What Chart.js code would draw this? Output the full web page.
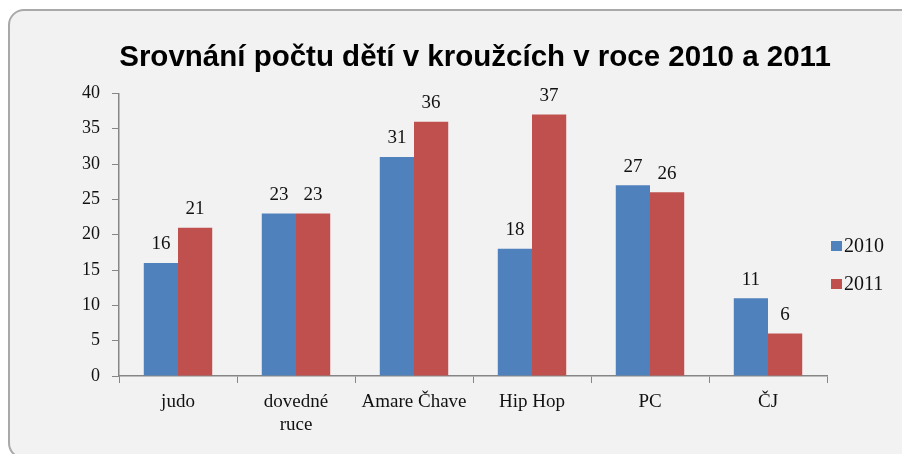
<!DOCTYPE html>
<html>
<head>
<meta charset="utf-8">
<script src="https://cdn.jsdelivr.net/npm/chart.js@4/dist/chart.umd.min.js"></script>
<style>
  html, body { margin: 0; padding: 0; background: #ffffff; }
  #wrap { position: relative; width: 902px; height: 454px; overflow: hidden; }
  #box { position: absolute; left: 8px; top: 9px; width: 920px; height: 450px;
         border: 2.5px solid #a9a9a9; border-radius: 16px; background: #f2f2f2; box-sizing: border-box; }
  #c { position: absolute; left: 0; top: 0; }
</style>
</head>
<body>
<div id="wrap">
  <div id="box"></div>
  <canvas id="c" width="902" height="454"></canvas>
</div>
<script>
const categories = ['judo', ['dovedné', 'ruce'], 'Amare Čhave', 'Hip Hop', 'PC', 'ČJ'];
const values2010 = [16, 23, 31, 18, 27, 11];
const values2011 = [21, 23, 36, 37, 26, 6];
const seriesLabels = ['2010', '2011'];
const yTicks = [0, 5, 10, 15, 20, 25, 30, 35, 40];

const serif = "'Liberation Serif', 'Times New Roman', serif";
const axisColor = '#868686';

const dataLabels = {
  id: 'dataLabels',
  afterDatasetsDraw(chart) {
    const ctx = chart.ctx;
    ctx.save();
    ctx.font = '19px ' + serif;
    ctx.fillStyle = '#111';
    ctx.textAlign = 'center';
    ctx.textBaseline = 'bottom';
    chart.data.datasets.forEach((ds, i) => {
      const meta = chart.getDatasetMeta(i);
      meta.data.forEach((el, j) => {
        ctx.fillText(String(ds.data[j]), el.x, el.y - 9);
      });
    });
    ctx.restore();
  }
};

const customLegend = {
  id: 'customLegend',
  afterDraw(chart) {
    const ctx = chart.ctx;
    ctx.save();
    ctx.font = '20px ' + serif;
    ctx.textBaseline = 'middle';
    ctx.textAlign = 'left';
    const x = 831, ys = [246, 284];
    chart.data.datasets.forEach((ds, i) => {
      ctx.fillStyle = ds.backgroundColor;
      ctx.fillRect(x, ys[i] - 5, 11, 10);
      ctx.fillStyle = '#111';
      ctx.fillText(ds.label, x + 13, ys[i] + 1);
    });
    ctx.restore();
  }
};

new Chart(document.getElementById('c'), {
  type: 'bar',
  data: {
    labels: categories,
    datasets: [
      { label: seriesLabels[0], data: values2010, backgroundColor: '#4f81bd' },
      { label: seriesLabels[1], data: values2011, backgroundColor: '#c0504d' }
    ]
  },
  options: {
    responsive: false,
    animation: false,
    devicePixelRatio: 1,
    layout: { padding: { left: 48, right: 0, top: 0, bottom: 0 } },
    datasets: { bar: { categoryPercentage: 0.58, barPercentage: 1.0 } },
    plugins: {
      legend: { display: false },
      tooltip: { enabled: false },
      title: {
        display: true,
        text: 'Srovnání počtu dětí v kroužcích v roce 2010 a 2011',
        color: '#000',
        font: { family: "'Liberation Sans', Arial, sans-serif", size: 29.5, weight: 'bold' },
        padding: { top: 40, bottom: 18 }
      }
    },
    scales: {
      x: {
        grid: { display: true, drawOnChartArea: false, drawTicks: true, tickLength: 7, color: axisColor, offset: true },
        border: { display: true, color: axisColor, width: 1.5 },
        ticks: { color: '#111', font: { family: serif, size: 19 }, padding: 8, maxRotation: 0, autoSkip: false },
        afterFit(scale) { scale.height = 78; }
      },
      y: {
        min: 0, max: 40,
        afterBuildTicks(scale) { scale.ticks = yTicks.map(v => ({ value: v })); },
        grid: { display: true, drawOnChartArea: false, drawTicks: true, tickLength: 7, color: axisColor },
        border: { display: true, color: axisColor, width: 1.5 },
        ticks: { color: '#111', font: { family: serif, size: 18 }, padding: 12 },
        afterFit(scale) { scale.width = 71; }
      },
      spacer: {
        position: 'right',
        display: true,
        min: 0, max: 40,
        grid: { display: false },
        border: { display: false },
        ticks: { display: false },
        afterFit(scale) { scale.width = 75; }
      }
    }
  },
  plugins: [dataLabels, customLegend]
});
</script>
</body>
</html>
